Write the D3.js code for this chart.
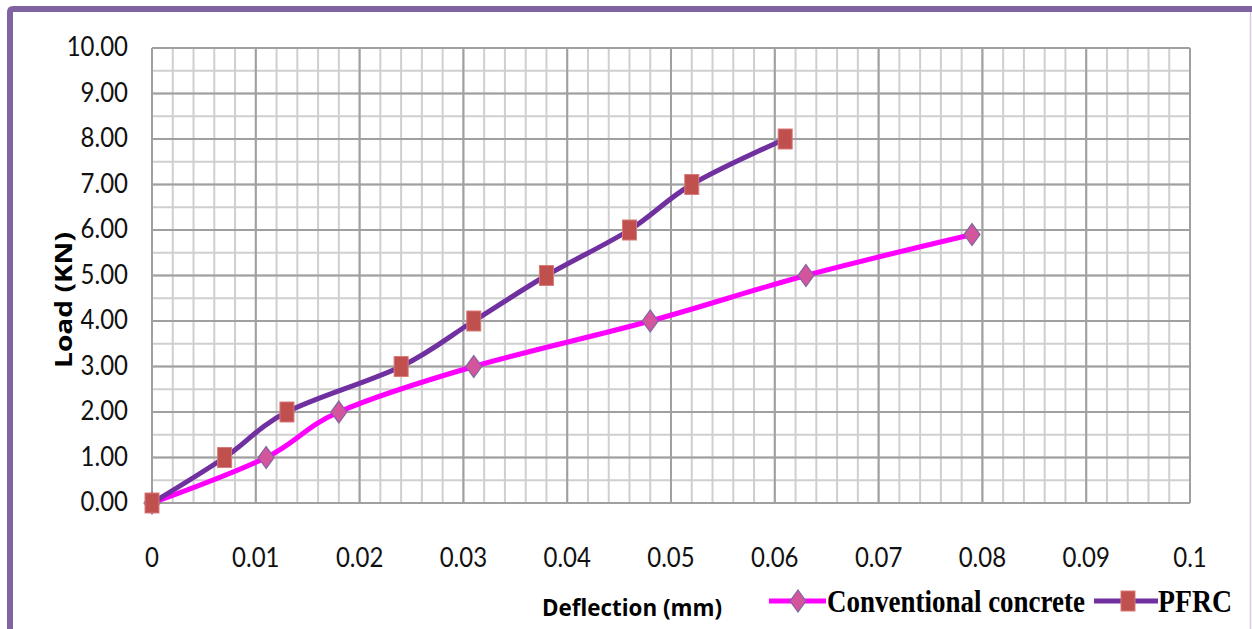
<!DOCTYPE html>
<html>
<head>
<meta charset="utf-8">
<script src="https://cdn.jsdelivr.net/npm/d3@7"></script>
<style>
  body { margin: 0; background: #fff; }
  svg { display: block; }
</style>
</head>
<body>
<svg width="1252" height="629"></svg>
<script>
// data
var convX = [0, 0.011, 0.018, 0.031, 0.048, 0.063, 0.079];
var convY = [0, 1, 2, 3, 4, 5, 5.9];
var pfrcX = [0, 0.007, 0.013, 0.024, 0.031, 0.038, 0.046, 0.052, 0.061];
var pfrcY = [0, 1, 2, 3, 4, 5, 6, 7, 8];
var xTicks = [0, 0.01, 0.02, 0.03, 0.04, 0.05, 0.06, 0.07, 0.08, 0.09, 0.1];
var yTicks = [0, 1, 2, 3, 4, 5, 6, 7, 8, 9, 10];
var seriesNames = ['Conventional concrete', 'PFRC'];

var svg = d3.select('svg');
var width = Number(svg.attr('width'));
var height = Number(svg.attr('height'));

// frame
svg.append('path')
    .attr('d', 'M10,' + height + ' L10,12 Q10,9 13,9 L' + width + ',9')
    .attr('fill', 'none')
    .attr('stroke', '#8064A2')
    .attr('stroke-width', 6);
svg.append('line')
    .attr('x1', 1250.5).attr('x2', 1250.5).attr('y1', 12).attr('y2', height)
    .attr('stroke', '#d6cce4').attr('stroke-width', 1.5);

var x = d3.scaleLinear().domain([0, 0.1]).range([152, 1190]);
var y = d3.scaleLinear().domain([0, 10]).range([503, 48]);

// grid: minor lines
var grid = svg.append('g');
grid.selectAll('.vmin')
    .data(d3.range(0, 51).map(function (i) { return i * 0.002; }))
    .enter().append('line')
    .attr('x1', function (d) { return x(d); })
    .attr('x2', function (d) { return x(d); })
    .attr('y1', y(0)).attr('y2', y(10))
    .attr('stroke', '#cfcfcf').attr('stroke-width', 2);
grid.selectAll('.hmin')
    .data(d3.range(0, 21).map(function (i) { return i * 0.5; }))
    .enter().append('line')
    .attr('x1', x(0)).attr('x2', x(0.1))
    .attr('y1', function (d) { return y(d); })
    .attr('y2', function (d) { return y(d); })
    .attr('stroke', '#cfcfcf').attr('stroke-width', 2);
// major lines
grid.selectAll('.vmaj')
    .data(xTicks)
    .enter().append('line')
    .attr('x1', function (d) { return x(d); })
    .attr('x2', function (d) { return x(d); })
    .attr('y1', y(0)).attr('y2', y(10))
    .attr('stroke', '#a0a0a0').attr('stroke-width', 2);
grid.selectAll('.hmaj')
    .data(yTicks)
    .enter().append('line')
    .attr('x1', x(0)).attr('x2', x(0.1))
    .attr('y1', function (d) { return y(d); })
    .attr('y2', function (d) { return y(d); })
    .attr('stroke', '#a0a0a0').attr('stroke-width', 2);

// tick labels
var tickFont = 'Lato, "Open Sans", sans-serif';
svg.append('g').selectAll('text')
    .data(yTicks)
    .enter().append('text')
    .attr('transform', function (d) { return 'translate(128,' + (y(d) + 8) + ') scale(1,1.12)'; })
    .attr('text-anchor', 'end')
    .attr('font-family', tickFont)
    .attr('font-size', 24)
    .attr('fill', '#111')
    .text(function (d) { return d3.format('.2f')(d); });
svg.append('g').selectAll('text')
    .data(xTicks)
    .enter().append('text')
    .attr('transform', function (d) { return 'translate(' + x(d) + ',567) scale(1,1.1)'; })
    .attr('text-anchor', 'middle')
    .attr('font-family', tickFont)
    .attr('font-size', 24)
    .attr('fill', '#111')
    .text(function (d) { return d === 0 ? '0' : d3.format('.2~f')(d); });

// axis titles
svg.append('text')
    .attr('transform', 'translate(72,300) rotate(-90)')
    .attr('text-anchor', 'middle')
    .attr('font-family', '"Open Sans", sans-serif')
    .attr('font-weight', 'bold')
    .attr('font-size', 24)
    .attr('textLength', 136)
    .attr('lengthAdjust', 'spacingAndGlyphs')
    .text('Load (KN)');
svg.append('text')
    .attr('x', 542).attr('y', 616)
    .attr('font-family', '"Open Sans", sans-serif')
    .attr('font-weight', 'bold')
    .attr('font-size', 24)
    .attr('textLength', 180)
    .attr('lengthAdjust', 'spacingAndGlyphs')
    .text('Deflection (mm)');

// series
var line = d3.line()
    .x(function (d) { return x(d[0]); })
    .y(function (d) { return y(d[1]); })
    .curve(d3.curveCardinal.tension(0));

var conv = d3.zip(convX, convY);
var pfrc = d3.zip(pfrcX, pfrcY);

function diamond(g) {
    g.append('path')
        .attr('d', 'M0,-11 L8,0 L0,11 L-8,0 Z')
        .attr('fill', '#D3559B')
        .attr('stroke', '#8064A2')
        .attr('stroke-width', 1.2);
}
function square(g) {
    g.append('rect')
        .attr('x', -7).attr('y', -10)
        .attr('width', 14).attr('height', 20)
        .attr('fill', '#C0504D')
        .attr('stroke', '#d77a78')
        .attr('stroke-width', 1);
}

svg.append('path')
    .datum(conv)
    .attr('d', line)
    .attr('fill', 'none')
    .attr('stroke', '#FF00FF')
    .attr('stroke-width', 5);
svg.append('g').selectAll('g')
    .data(conv)
    .enter().append('g')
    .attr('transform', function (d) { return 'translate(' + x(d[0]) + ',' + y(d[1]) + ')'; })
    .call(diamond);

svg.append('path')
    .datum(pfrc)
    .attr('d', line)
    .attr('fill', 'none')
    .attr('stroke', '#7030A0')
    .attr('stroke-width', 5);
svg.append('g').selectAll('g')
    .data(pfrc)
    .enter().append('g')
    .attr('transform', function (d) { return 'translate(' + x(d[0]) + ',' + y(d[1]) + ')'; })
    .call(square);

// legend
var legendFont = '"Liberation Serif", "Times New Roman", serif';
var lg1 = svg.append('g').attr('transform', 'translate(769,601)');
lg1.append('line').attr('x1', 0).attr('x2', 57).attr('stroke', '#FF00FF').attr('stroke-width', 5);
lg1.append('g').attr('transform', 'translate(29,0)').call(diamond);
lg1.append('text')
    .attr('x', 58).attr('y', 11)
    .attr('font-family', legendFont)
    .attr('font-weight', 'bold')
    .attr('font-size', 32)
    .attr('textLength', 258)
    .attr('lengthAdjust', 'spacingAndGlyphs')
    .text(seriesNames[0]);

var lg2 = svg.append('g').attr('transform', 'translate(1094,601)');
lg2.append('line').attr('x1', 0).attr('x2', 64).attr('stroke', '#7030A0').attr('stroke-width', 5);
lg2.append('g').attr('transform', 'translate(34,0)').call(square);
lg2.append('text')
    .attr('x', 64).attr('y', 11)
    .attr('font-family', legendFont)
    .attr('font-weight', 'bold')
    .attr('font-size', 32)
    .attr('textLength', 74)
    .attr('lengthAdjust', 'spacingAndGlyphs')
    .text(seriesNames[1]);
</script>
</body>
</html>
